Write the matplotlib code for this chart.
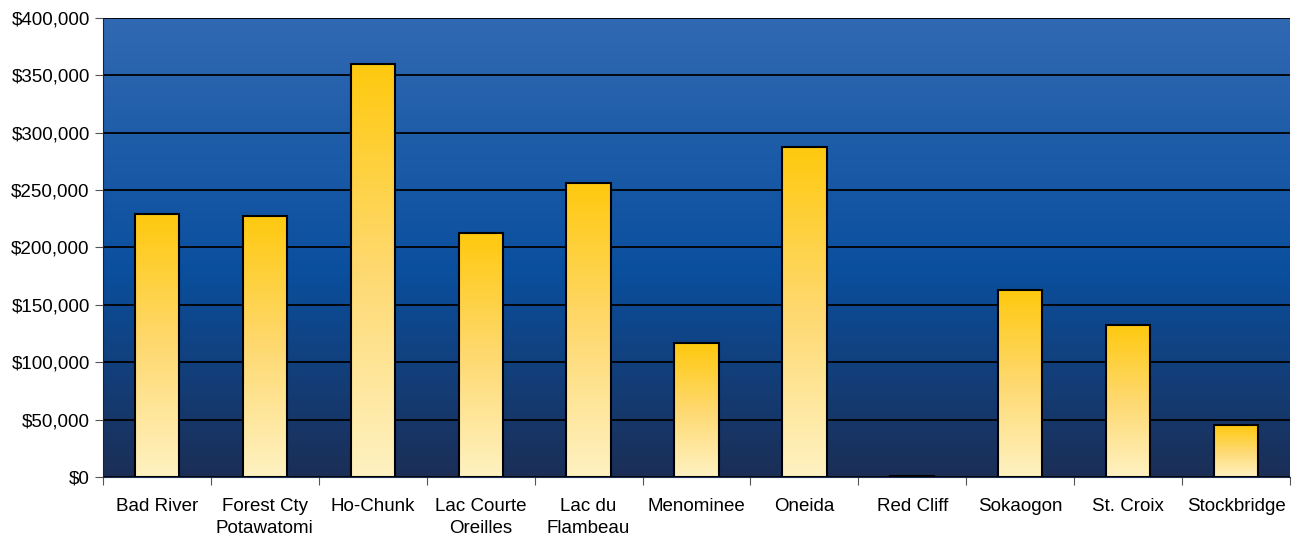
import numpy as np
from matplotlib import pyplot as plt
from matplotlib.colors import LinearSegmentedColormap
from matplotlib.ticker import FuncFormatter, FixedLocator

plt.rcParams['font.family'] = ['Liberation Sans', 'DejaVu Sans']

tribes = ["Bad River", "Forest Cty\nPotawatomi", "Ho-Chunk", "Lac Courte\nOreilles",
          "Lac du\nFlambeau", "Menominee", "Oneida", "Red Cliff", "Sokaogon",
          "St. Croix", "Stockbridge"]
amounts = [229000, 227500, 360000, 212500, 256500, 116500, 287500, 1000, 163000,
           132500, 45000]

fig = plt.figure(figsize=(12.99, 5.4), dpi=100)
ax = fig.add_axes([103 / 1299, 1 - 477 / 540, 1187 / 1299, 459 / 540])

# background gradient
bg = LinearSegmentedColormap.from_list("bg", [(0, "#1b2e56"), (0.45, "#0a4f9e"), (1, "#3169b3")])
grad = np.linspace(0, 1, 256).reshape(-1, 1)
ax.imshow(grad, cmap=bg, aspect='auto', origin='lower', extent=[0, 1, 0, 1],
          transform=ax.transAxes, zorder=0)

ax.yaxis.grid(True, color='black', linewidth=1.3, zorder=1)
ax.set_axisbelow(True)

# bars with vertical gradient (gold top -> pale bottom)
barcm = LinearSegmentedColormap.from_list("bar", [(0, "#fff2c2"), (0.5, "#fed970"), (1, "#ffc90e")])
w = 0.41
x = np.arange(len(tribes))
for xi, v in zip(x, amounts):
    ax.imshow(grad, cmap=barcm, aspect='auto', origin='lower',
              extent=[xi - w / 2, xi + w / 2, 0, v], zorder=2)
ax.bar(x, amounts, width=w, facecolor='none', edgecolor='black', linewidth=1.5, zorder=3)
ax.set_xlim(-0.5, len(tribes) - 0.5)
ax.set_ylim(0, 400000)

ax.set_yticks(np.arange(0, 400001, 50000))
ax.yaxis.set_major_formatter(FuncFormatter(lambda v, p: "${:,.0f}".format(v)))
ax.xaxis.set_major_locator(FixedLocator(np.arange(-0.5, len(tribes), 1)))
ax.set_xticklabels([])
ax.set_xticks(x, minor=True)
ax.set_xticklabels(tribes, minor=True, fontsize=13.5, linespacing=1.4)
ax.tick_params(axis='x', which='minor', length=0, pad=15)
ax.tick_params(axis='x', which='major', length=6, color='#555555')
ax.tick_params(axis='y', length=6, color='#555555', labelsize=13.5)

for s in ['top', 'right']:
    ax.spines[s].set_visible(False)
ax.spines['left'].set_color('#222222')
ax.spines['bottom'].set_color('#1b2e56')

plt.savefig('out.png', dpi=100)
